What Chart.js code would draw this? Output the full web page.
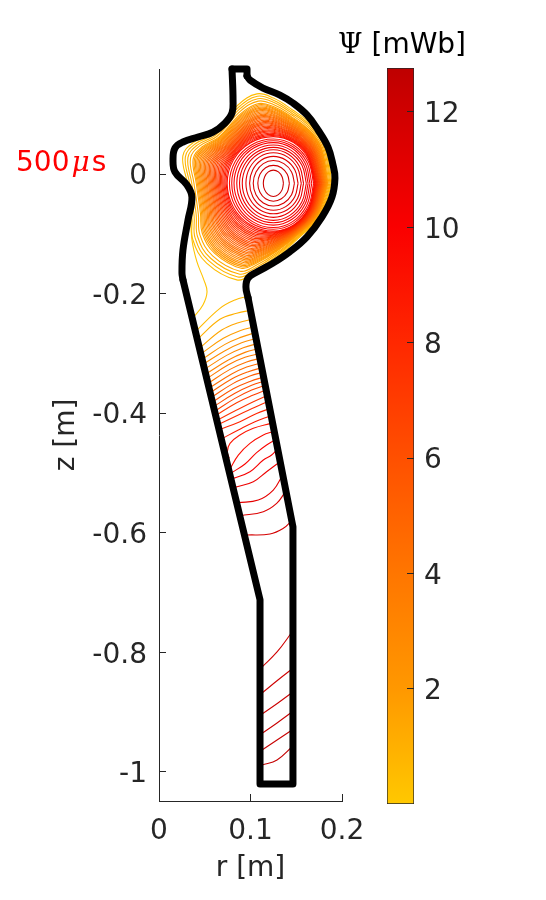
<!DOCTYPE html>
<html><head><meta charset="utf-8">
<style>
html,body{margin:0;padding:0;background:#fff;width:546px;height:900px;overflow:hidden}
canvas{position:absolute;top:0}
.t{position:absolute;font-family:"DejaVu Sans";font-size:28px;line-height:34px;white-space:pre}
.s{font-family:"DejaVu Serif"}
</style>
<script src="https://cdn.jsdelivr.net/npm/chart.js@4"></script>
</head><body>
<canvas id="c1" width="546" height="900" style="left:0"></canvas>
<canvas id="c2" width="166" height="900" style="left:380px"></canvas>
<div class="t" style="left:16px;top:145px;color:#f00">500<i class="s" style="margin:0 2px 0 2px">μ</i>s</div>
<div class="t" style="left:338px;top:27px;color:#000"><span class="s">Ψ</span> [mWb]</div>
<script>
const rTicks=[0,0.1,0.2];
const zTicks=[0,-0.2,-0.4,-0.6,-0.8,-1];
const psiTicks=[2,4,6,8,10,12];
const rRange=[0,0.2];
const zRange=[-1.0485,0.1756];
const psiRange=[0.007,12.76];
// colormap stops: [psi, colour]
const cmapPsi=[0,2,4,6,8,10,12,12.76];
const cmapRGB=[[255,200,0],[255,152,0],[255,118,0],[255,80,0],[255,40,0],[250,0,0],[208,0,0],[190,0,0]];
// all outlines below: r, z, r, z ... in millimetres
const wallPlasma=[96.2,163.9,99.5,157,113.7,143.8,132.2,132,146.4,118.7,161.7,98.7,173.8,73.6,184.7,45,190.2,15,192.3,-6.7,189,-38.5,178,-72,161.7,-105,143,-130,124.6,-149,107,-164,97.3,-174,95,-189,97.3,-207];
const wallDuct=[97.3,-207,146.4,-590,146.4,-1020,110.4,-1020,110.4,-712,26.2,-177];
const wallLeft=[26.2,-177,25.1,-165.6,26.2,-127,31.7,-77,36,-38.5,30.6,-18.4,17.5,3.3,15.3,23.4,17.5,43.5,26.2,53.5,42.6,61.9,59,70,72,85,79.8,102,80.9,123.7,79.8,175.6];
const wallTop=[79.8,175.6,96.2,175.6,96.2,163.9];
const plasmaLevels=[12.2,11.9,11.65,11.4,11.1,10.85,10.55,10.3,10,9.75,9.5,9.2,8.95,8.65,8.4,8.1,7.85,7.6,7.3,7.05,6.75,6.5,6.2,5.95,5.7,5.4,5.15,4.85,4.6,4.3,4.05,3.8,3.5,3.25,2.95,2.7,2.4,2.15,1.9,1.6,1.35,1.05,0.8,0.5];
const plasmaContours=[
[136,-15.5,134.5,-4.5,130.5,3.5,125,6.5,119.5,3.5,115.5,-4.5,114,-15.5,115.5,-26.5,119.5,-34.5,125,-37.5,130.5,-34.5,134.5,-26.5,136,-15.5],
[142.5,-15.5,140.2,-.5,133.8,10.5,125,14.5,116.5,10.5,110.3,-.5,108,-15.5,110.3,-30.5,116.5,-41.5,125,-45.5,133.8,-41.5,140.2,-30.5,142.5,-15.5],
[148,-15.5,144.9,3.5,136.5,17.4,125,22.5,114,17.4,106,3.5,103,-15.5,106,-34.5,114,-48.4,125,-53.5,136.5,-48.4,144.9,-34.5,148,-15.5],
[152,-15.5,148.4,7,138.5,23.5,125,29.5,112,23.5,102.5,7,99,-15.5,102.5,-38,112,-54.5,125,-60.5,138.5,-54.5,148.4,-38,152,-15.5],
[155.5,-15.5,151.4,10,140.3,28.7,125,35.5,110,28.7,99,10,95,-15.5,99,-41,110,-59.7,125,-66.5,140.3,-59.7,151.4,-41,155.5,-15.5],
[158,-15.5,153.6,12.5,141.5,33,125,40.5,108,33,95.6,12.5,91,-15.5,95.6,-44,108,-64.9,125,-72.5,141.5,-64.9,153.6,-44,158,-15.5],
[161,-15.5,156.2,14.5,143,36.5,125,44.5,106.5,36.5,93,14.5,88,-15.5,93,-46.5,106.5,-69.2,125,-77.5,143,-69.2,156.2,-46.5,161,-15.5],
[163,-15.5,157.9,16.5,144,39.9,125,48.5,105,39.9,90.4,16.5,85,-15.5,90.4,-48.5,105,-72.7,125,-81.5,144,-72.7,157.9,-48.5,163,-15.5],
[165,-15.5,159.6,18.5,145,43.4,125,52.5,103.5,43.4,87.8,18.5,82,-15.5,87.8,-50.5,103.5,-76.1,125,-85.5,145,-76.1,159.6,-50.5,165,-15.5],
[167,-15.5,161.4,20,146,46,125,55.5,102.2,46,85.6,20,79.5,-15.5,85.6,-52.5,102.2,-79.6,125,-89.5,146,-79.6,161.4,-52.5,167,-15.5],
[169,-15.5,163.1,21.5,147,48.6,125,58.5,101,48.6,83.4,21.5,77,-15.5,83.4,-54,101,-82.2,125,-92.5,147,-82.2,163.1,-54,169,-15.5],
[170,-15.5,164,23.5,147.5,52,125,62.5,99.7,52,81.3,23.5,74.5,-15.5,81.3,-55.5,99.7,-84.8,125,-95.5,147.5,-84.8,164,-55.5,170,-15.5],
[170.5,-15.5,162.5,29.7,151,49.7,138,60.5,125,64.3,115.6,63.2,103.3,57.1,85.3,35.3,78.6,20.1,75.2,7.3,73.3,-15.5,76.9,-46,81.9,-61.8,90.8,-78,106,-92.4,113.3,-95.5,127.6,-96.6,147.7,-85.5,163.6,-58.2,170.5,-15.5],
[171.1,-15.5,163.1,30.4,151.4,50.7,138.3,61.9,125,66.1,115.3,65.2,102.8,58.7,84.6,36.2,77.4,21,73.8,8,72.1,-15.5,75.8,-46.8,80.6,-63.2,89.7,-80.1,105.4,-94.8,113,-97.5,127.7,-97.8,147.9,-86,163.9,-58.6,171.1,-15.5],
[171.6,-15.5,163.6,31,151.8,51.7,138.5,63.2,125,67.9,115.1,67.3,102.3,60.4,83.8,37.2,76.2,21.9,72.4,8.6,70.9,-15.5,74.6,-47.5,79.3,-64.5,88.6,-82.1,104.8,-97.2,112.7,-99.5,127.7,-99,148,-86.6,164.3,-59,171.6,-15.5],
[172.1,-15.5,164.1,31.6,152.2,52.7,138.7,64.5,125,69.7,114.8,69.3,101.8,62,83.1,38.2,75,22.8,71,9.3,69.7,-15.5,73.4,-48.3,78.1,-65.9,87.5,-84.1,104.2,-99.7,112.4,-101.6,127.8,-100.2,148.2,-87.1,164.6,-59.4,172.1,-15.5],
[172.6,-15.5,164.6,32.3,152.6,53.7,139,65.8,125,71.5,114.6,71.3,101.3,63.7,82.3,39.1,73.9,23.8,69.6,9.9,68.5,-15.5,72.3,-49,76.8,-67.3,86.4,-86.1,103.6,-102.1,112.1,-103.6,127.8,-101.4,148.4,-87.7,165,-59.8,172.6,-15.5],
[173.2,-15.5,165.2,32.9,153,54.8,139.2,67.2,125,73.2,114.3,73.3,100.8,65.3,81.6,40.1,72.7,24.7,68.2,10.6,67.2,-15.5,71.1,-49.7,75.5,-68.7,85.3,-88.2,103,-104.5,111.8,-105.6,127.8,-102.7,148.6,-88.3,165.3,-60.2,173.2,-15.5],
[173.7,-15.5,165.7,33.6,153.4,55.8,139.4,68.5,125,75,114.1,75.4,100.3,67,80.8,41.1,71.5,25.6,66.8,11.2,66,-15.5,69.9,-50.5,74.2,-70,84.1,-90.2,102.4,-106.9,111.5,-107.6,127.9,-103.9,148.8,-88.8,165.7,-60.6,173.7,-15.5],
[174.2,-15.5,166.2,34.2,153.8,56.8,139.6,69.8,125,76.8,113.8,77.4,99.8,68.6,80.1,42,70.3,26.5,65.4,11.9,64.8,-15.5,68.7,-51.2,72.9,-71.4,83,-92.2,101.8,-109.3,111.2,-109.6,127.9,-105.1,148.9,-89.4,166,-61,174.2,-15.5],
[174.8,-15.5,166.8,34.8,154.2,57.8,139.9,71.2,125,78.6,113.6,79.4,99.4,70.3,79.3,43,69.1,27.4,63.9,12.5,63.6,-15.5,67.6,-52,71.6,-72.8,81.9,-94.3,101.2,-111.7,111,-111.6,128,-106.3,149.1,-89.9,166.4,-61.4,174.8,-15.5],
[175.3,-15.5,167.3,35.5,154.6,58.8,140.1,72.5,125,80.4,113.4,81.4,98.9,72,78.6,43.9,68,28.3,62.5,13.2,62.4,-15.5,66.4,-52.7,70.4,-74.2,80.8,-96.3,100.6,-114.2,110.7,-113.6,128,-107.5,149.3,-90.5,166.8,-61.7,175.3,-15.5],
[175.8,-15.5,167.8,36.1,155,59.8,140.3,73.8,125,82.2,113.1,83.4,98.4,73.6,77.8,44.9,66.7,29.2,61.1,13.8,61.2,-15.5,65.2,-53.5,69.1,-75.6,79.7,-98.3,100,-116.6,110.4,-115.7,128,-108.7,149.5,-91,167.1,-62.1,175.8,-15.5],
[176.3,-15.5,168.3,36.7,155.4,60.8,140.5,75.1,125,84,112.9,85.5,97.9,75.3,77.1,45.9,65.5,30.1,59.7,14.5,60,-15.5,64.1,-54.2,67.8,-76.9,78.6,-100.3,99.4,-119,110.1,-117.7,128.1,-109.9,149.7,-91.6,167.5,-62.5,176.3,-15.5],
[176.9,-15.5,168.9,37.4,155.8,61.8,140.8,76.5,125,85.8,112.6,87.5,97.4,76.9,76.3,46.8,64.3,31,58.3,15.1,58.8,-15.5,62.9,-54.9,66.5,-78.3,77.5,-102.4,98.8,-121.4,109.8,-119.7,128.1,-111.1,149.8,-92.2,167.8,-62.9,176.9,-15.5],
[177.4,-15.5,169.4,38,156.2,62.8,141,77.8,125,87.6,112.4,89.5,96.9,78.6,75.6,47.8,63.2,32,56.9,15.8,57.6,-15.5,61.7,-55.7,65.2,-79.7,76.4,-104.4,98.2,-123.8,109.5,-121.7,128.1,-112.3,150,-92.7,168.2,-63.3,177.4,-15.5],
[177.9,-15.5,169.9,38.6,156.6,63.8,141.2,79.1,125,89.4,112.1,91.5,96.4,80.2,74.8,48.8,62,32.9,55.5,16.4,56.4,-15.5,60.6,-56.4,63.9,-81.1,75.3,-106.4,97.6,-126.2,109.2,-123.7,128.2,-113.5,150.2,-93.3,168.5,-63.7,177.9,-15.5],
[178.4,-15.5,170.4,39.3,157,64.8,141.4,80.4,125,91.2,111.9,93.6,95.9,81.9,74,49.7,60.8,33.8,54.1,17.1,55.2,-15.5,59.4,-57.2,62.7,-82.4,74.2,-108.4,97,-128.7,108.9,-125.7,128.2,-114.7,150.4,-93.8,168.9,-64.1,178.4,-15.5],
[179,-15.5,171,39.9,157.4,65.8,141.7,81.8,125,92.9,111.6,95.6,95.4,83.5,73.3,50.7,59.6,34.7,52.7,17.7,54,-15.5,58.2,-57.9,61.4,-83.8,73,-110.5,96.4,-131.1,108.6,-127.7,128.3,-115.9,150.6,-94.4,169.2,-64.5,179,-15.5],
[179.5,-15.5,171.5,40.5,157.8,66.9,141.9,83.1,125,94.7,111.4,97.6,94.9,85.2,72.5,51.7,58.4,35.6,51.3,18.3,52.7,-15.5,57,-58.6,60.1,-85.2,71.9,-112.5,95.8,-133.5,108.3,-129.8,128.3,-117.2,150.7,-95,169.6,-64.9,179.5,-15.5],
[180,-15.5,172,41.2,158.2,67.9,142.1,84.4,125,96.5,111.2,99.6,94.4,86.9,71.8,52.6,57.2,36.5,49.9,19,51.5,-15.5,55.9,-59.4,58.8,-86.6,70.8,-114.5,95.2,-135.9,108,-131.8,128.3,-118.4,150.9,-95.5,169.9,-65.3,180,-15.5],
[180.6,-15.5,172.6,41.8,158.6,68.9,142.4,85.8,125,98.3,110.9,101.6,93.9,88.5,71,53.6,56,37.4,48.5,19.6,50.3,-15.5,54.7,-60.1,57.5,-88,69.7,-116.6,94.6,-138.3,107.7,-133.8,128.4,-119.6,151.1,-96.1,170.3,-65.7,180.6,-15.5],
[181.1,-15.5,173.1,42.5,159,69.9,142.6,87.1,125,100.1,110.7,103.7,93.4,90.2,70.3,54.5,54.8,38.3,47.1,20.3,49.1,-15.5,53.5,-60.9,56.2,-89.3,68.6,-118.6,94,-140.7,107.4,-135.8,128.4,-120.8,151.3,-96.6,170.7,-66.1,181.1,-15.5],
[181.6,-15.5,173.6,43.1,159.4,70.9,142.8,88.4,125,101.9,110.4,105.7,92.9,91.8,69.5,55.5,53.6,39.2,45.7,20.9,47.9,-15.5,52.4,-61.6,55,-90.7,67.5,-120.6,93.4,-143.2,107.1,-137.8,128.5,-122,151.5,-97.2,171,-66.5,181.6,-15.5],
[182.1,-15.5,174.1,43.7,159.8,71.9,143,89.7,125,103.7,110.2,107.7,92.4,93.5,68.8,56.5,52.5,40.2,44.3,21.6,46.7,-15.5,51.2,-62.4,53.7,-92.1,66.4,-122.6,92.8,-145.6,106.8,-139.8,128.5,-123.2,151.6,-97.7,171.4,-66.9,182.1,-15.5],
[182.7,-15.5,174.7,44.4,160.2,72.9,143.3,91.1,125,105.5,109.9,109.7,92,95.1,68,57.4,51.3,41.1,42.9,22.2,45.5,-15.5,50,-63.1,52.4,-93.5,65.3,-124.7,92.2,-148,106.5,-141.8,128.5,-124.4,151.8,-98.3,171.7,-67.3,182.7,-15.5],
[183.2,-15.5,175.2,45,160.6,73.9,143.5,92.4,125,107.3,109.7,111.7,91.4,96.8,67.3,58.4,50.1,42,41.5,22.9,44.3,-15.5,48.9,-63.8,51.1,-94.9,64.2,-126.7,91.6,-150.4,106.2,-143.9,128.6,-125.6,152,-98.9,172.1,-67.7,183.2,-15.5],
[183.7,-15.5,175.7,45.6,161,75,143.7,93.7,125,109.1,109.4,113.8,91,98.4,66.5,59.4,48.9,42.9,40.1,23.5,43.1,-15.5,47.7,-64.6,49.8,-96.2,63.1,-128.7,91,-152.8,105.9,-145.9,128.6,-126.8,152.2,-99.4,172.4,-68.1,183.7,-15.5],
[184.3,-15.5,176.3,46.3,161.4,75.9,144,95.1,125,110.9,109.2,115.8,90.5,100.1,65.8,60.3,47.7,43.8,38.7,24.2,41.9,-15.5,46.5,-65.3,48.5,-97.6,62,-130.8,90.4,-155.2,105.6,-147.9,128.7,-128,152.3,-100,172.8,-68.5,184.3,-15.5],
[184.8,-15.5,176.8,46.9,161.8,76.9,144.2,96.4,125,112.7,108.9,117.8,90,101.8,65,61.3,46.5,44.7,37.3,24.8,40.7,-15.5,45.3,-66.1,47.3,-99,60.9,-132.8,89.8,-157.7,105.4,-149.9,128.7,-129.2,152.6,-100.5,173.2,-68.8,184.8,-15.5],
[185.8,-15.5,177.8,48.2,162.6,78.9,144.6,99,125,116.2,108.5,121.9,89,105.1,63.5,63.2,44.1,46.5,34.4,26.1,38.2,-15.5,43,-67.5,44.7,-101.7,58.6,-136.8,88.6,-162.5,104.8,-153.9,128.8,-131.7,152.9,-101.7,173.9,-69.6,185.8,-15.5],
[186.9,-15.5,178.9,49.5,163.4,80.9,145.1,101.7,125,119.8,108,125.9,88,108.4,62,65.1,41.8,48.4,31.6,27.4,35.8,-15.5,40.7,-69,42.1,-104.5,56.4,-140.9,87.4,-167.3,104.2,-157.9,128.8,-134.1,153.3,-102.8,174.6,-70.4,186.9,-15.5],
[187.9,-15.5,179.9,50.7,164.2,82.9,145.5,104.4,125,123.4,107.5,130,87,111.7,60.5,67.1,39.4,50.2,28.8,28.7,33.4,-15.5,38.4,-70.5,39.5,-107.2,54.2,-145,86.2,-172.1,103.6,-162,128.9,-136.5,153.6,-103.9,175.3,-71.2,187.9,-15.5],
[189,-15.5,181,52,165,85,146,107,125,127,107,134,86,115,59,69,37,52,26,30,31,-15.5,36,-72,37,-110,52,-149,85,-177,103,-166,129,-139,154,-105,176,-72,189,-15.5]
];
const separatrixLevel=[0.2];
const separatrix=[36,-35,35,-68.6,36,-110,41.5,-147,49,-177,52.5,-197,48,-219,37,-241];
const ductLevels=[0.6,1,1.4,1.8,2.2,2.6,3,3.4,3.8,4.2,4.6,5,5.4,5.8,6.2,6.6,7,7.4,7.8,8.2,8.6,9,9.4,9.8,10.2,10.6,11,11.4,11.8];
const ductContours=[
[39.7,-263.7,66.6,-224.7,83,-210.7,98.3,-204],
[41.9,-276.5,66.6,-243,84.9,-233,101.6,-227.5],
[44,-291.6,68.5,-260.9,86.7,-248.6,103.4,-242.5],
[45.5,-301,70.3,-274.8,88.5,-262,104.9,-255.3],
[47,-310,72.1,-284.9,89.2,-273.2,106.4,-264.8],
[48,-318.3,72.1,-295.5,90.3,-282.1,107.4,-274.8],
[49.5,-326.7,73.9,-303.3,92.1,-290.5,108.5,-283.2],
[50.6,-335,75.8,-311.1,94,-298.3,109.6,-291.6],
[51.7,-342.8,75.8,-318.9,94,-306.6,110.7,-300],
[53.2,-350.6,77.6,-326.7,95.8,-314.4,111.8,-307.7],
[54.3,-358.5,79.4,-334.5,95.8,-322.8,112.5,-315.5],
[55.4,-366.3,79.4,-342.8,97.6,-330.6,113.6,-323.3],
[56.8,-374.1,81.2,-350.1,99.4,-337.8,114.7,-331.1],
[57.9,-381.9,81.2,-359,99.4,-346.8,115.5,-339],
[59,-389.7,83,-366.8,101.3,-353.4,116.6,-345.6],
[60.1,-397.5,83,-375.2,101.3,-361.2,117.3,-352.9],
[61.2,-404.7,84.9,-382.4,103.1,-369.6,118.4,-360.1],
[62.6,-412.5,84.9,-394.7,103.1,-380.8,119.5,-369.6],
[63.7,-419.8,86.7,-403,104.9,-390.2,120.6,-379.1],
[64.8,-428.1,88.5,-414.2,106.7,-400.3,122,-391.9],
[67.4,-443.7,86.7,-428.1,104.9,-414.2,121.3,-404.7],
[76.8,-475.5,74.7,-464.4,77.6,-450.4,88.5,-436.5,103.1,-425.3,122.4,-417],
[77.6,-493.3,86.7,-470,99.4,-450.4,114,-436.5,124.2,-431],
[79.4,-499.5,94,-485,106.7,-466,117.6,-453.2,126.8,-444.9],
[81.2,-509,99.4,-497.8,114,-478.3,123.1,-470,128.6,-461.6],
[83,-524,103.1,-514.5,117.6,-497.8,132.2,-481.1],
[86.7,-549.6,108.5,-545.2,124.9,-528.5,135.1,-503.4],
[89.2,-571.4,114,-564.7,128.6,-550.8,137.7,-532.4],
[95.8,-603.7,121.3,-602,135.9,-592.5,143.9,-581.4]
];
const tailLevels=[12,12.1,12.2,12.3,12.4,12.5];
const tailContours=[
[112.6,-824.4,129,-799.3,145.4,-765.9],
[112.6,-867.9,130,-846.2,145.4,-827.8],
[112.6,-903,130,-884.6,146.4,-866.2],
[111.5,-936.5,129,-918,145.4,-899.7],
[112.6,-963.2,129,-946.5,145.4,-929.8],
[112.6,-988.3,129,-979.9,146.4,-956.5]
];

const ink='#262626';
const font={family:'"DejaVu Sans"',size:28};
function colourOf(psi){
  let i=0; while(i<cmapPsi.length-2 && psi>cmapPsi[i+1]) i++;
  const f=Math.min(1,Math.max(0,(psi-cmapPsi[i])/(cmapPsi[i+1]-cmapPsi[i])));
  const c=cmapRGB[i].map((v,j)=>Math.round(v+(cmapRGB[i+1][j]-v)*f));
  return `rgb(${c[0]},${c[1]},${c[2]})`;
}
function pts(a){const o=[];for(let i=0;i<a.length;i+=2)o.push({x:a[i]/1000,y:a[i+1]/1000});return o;}
function contour(a,psi){return {data:pts(a),showLine:true,pointRadius:0,borderWidth:1.1,borderColor:colourOf(psi),tension:0.4,fill:false};}
function wallPiece(a,t){return {data:pts(a),showLine:true,pointRadius:0,borderWidth:7,borderColor:'#000',borderJoinStyle:'round',borderCapStyle:'round',tension:t,clip:false};}
const datasets=[wallPiece(wallPlasma,0.4),wallPiece(wallDuct,0),wallPiece(wallLeft,0.4),wallPiece(wallTop,0)];
tailContours.forEach((c,i)=>datasets.push(contour(c,tailLevels[i])));
ductContours.forEach((c,i)=>datasets.push(contour(c,ductLevels[i])));
datasets.push(contour(separatrix,separatrixLevel[0]));
plasmaContours.forEach((c,i)=>datasets.push(contour(c,plasmaLevels[i])));

new Chart(document.getElementById('c1'),{
  type:'scatter',
  data:{datasets},
  options:{
    responsive:false,animation:false,devicePixelRatio:1,
    layout:{padding:{top:69,right:204,left:0,bottom:0}},
    plugins:{legend:{display:false},tooltip:{enabled:false},title:{display:false}},
    scales:{
      x:{type:'linear',min:rRange[0],max:rRange[1],position:'bottom',
        afterBuildTicks:s=>{s.ticks=rTicks.map(v=>({value:v}));},
        afterFit:s=>{s.height=99;},
        grid:{drawOnChartArea:false,color:ink,tickLength:-7},
        border:{color:ink,width:1},
        ticks:{font,color:ink,padding:21,maxRotation:0,autoSkip:false,callback:v=>String(v)},
        title:{display:true,text:'r [m]',font,color:ink,padding:{top:0,bottom:14}}},
      y:{type:'linear',min:zRange[0],max:zRange[1],position:'left',
        afterBuildTicks:s=>{s.ticks=zTicks.map(v=>({value:v}));},
        afterFit:s=>{s.width=159;},
        grid:{drawOnChartArea:false,color:ink,tickLength:-7},
        border:{color:ink,width:1},
        ticks:{font,color:ink,padding:19,labelOffset:3,autoSkip:false,callback:v=>String(v)},
        title:{display:true,text:'z [m]',font,color:ink,padding:{top:50,bottom:0}}}
    }
  }
});

new Chart(document.getElementById('c2'),{
  type:'bar',
  data:{labels:['Ψ'],datasets:[{data:[psiRange],barPercentage:1,categoryPercentage:1,borderWidth:1,borderColor:ink,borderSkipped:false,
    backgroundColor:ctx=>{
      const a=ctx.chart.chartArea; if(!a) return '#f00';
      const y=ctx.chart.scales.y, g=ctx.chart.ctx.createLinearGradient(0,a.bottom,0,a.top);
      cmapPsi.forEach(v=>{const p=(y.bottom-y.getPixelForValue(v))/(y.bottom-y.top);
        g.addColorStop(Math.min(1,Math.max(0,p)),colourOf(v));});
      return g;}
  }]},
  options:{
    responsive:false,animation:false,devicePixelRatio:1,
    layout:{padding:{top:68,left:7,right:0,bottom:96}},
    plugins:{legend:{display:false},tooltip:{enabled:false}},
    scales:{
      x:{display:false},
      y:{type:'linear',min:psiRange[0],max:psiRange[1],position:'right',
        afterBuildTicks:s=>{s.ticks=psiTicks.map(v=>({value:v}));},
        afterFit:s=>{s.width=132;},
        grid:{drawOnChartArea:false,color:ink,tickLength:-7,z:1},
        border:{display:false},
        ticks:{font,color:ink,padding:17,labelOffset:3,autoSkip:false,callback:v=>String(v)}}
    }
  }
});
</script>
</body></html>
